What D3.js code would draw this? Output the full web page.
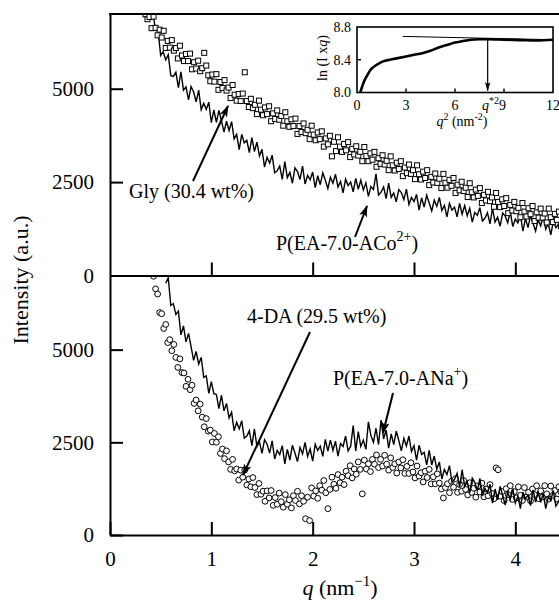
<!DOCTYPE html>
<html>
<head>
<meta charset="utf-8">
<script src="https://cdn.jsdelivr.net/npm/d3@7/dist/d3.min.js"></script>
<style>
  html, body { margin: 0; padding: 0; background: #fff; }
  svg, svg text { font-family: "Liberation Serif", "Times New Roman", Times, serif; }
</style>
</head>
<body>
<div id="chart"></div>
<script>
// ---- data ----
// upper panel: Gly (30.4 wt%) open squares, q = 0.35 + 0.02*i
const glyQStart = 0.35, glyQStep = 0.02;
const glyIntensity = [
  6990, 6860, 6920, 6620, 6930, 6630, 6430, 6580, 6370, 6550,
  6090, 6280, 6100, 6300, 6020, 6090, 5810, 6150, 5890, 5740,
  5930, 5740, 5940, 5520, 5710, 5540, 5750, 5470, 5550, 5960,
  5620, 5360, 5200, 5380, 5190, 5390, 4970, 5180, 5020, 5230,
  4950, 5030, 4750, 5100, 4840, 4680, 4860, 4670, 4870, 5440,
  4670, 4510, 4730, 4480, 4570, 4320, 4680, 4440, 4290, 4500,
  4320, 4530, 4130, 4340, 4190, 4420, 4170, 4270, 4010, 4370,
  4130, 3980, 4180, 4000, 4200, 3790, 4000, 3840, 4070, 3810,
  3900, 3650, 4010, 3770, 3620, 3830, 3650, 3860, 3450, 3670,
  3510, 3740, 3190, 3580, 3330, 3700, 3450, 3310, 3520, 3350,
  3570, 3170, 3390, 3240, 3460, 3210, 3310, 3060, 3440, 3200,
  3060, 3270, 3100, 3310, 2910, 3140, 2990, 3220, 2970, 3070,
  2820, 3190, 2950, 2810, 3020, 2850, 3060, 2660, 2890, 2740,
  2970, 2720, 2820, 2580, 2950, 2710, 2570, 2780, 2610, 2820,
  2420, 2640, 2490, 2730, 2480, 2590, 2340, 2720, 2480, 2350,
  2560, 2400, 2610, 2210, 2430, 2280, 2510, 2260, 2350, 2100,
  2470, 2230, 2090, 2300, 2130, 2340, 1940, 2160, 2010, 2240,
  1990, 2090, 1840, 2210, 1970, 1830, 2040, 1860, 2070, 1670,
  1890, 1740, 1970, 1720, 1810, 1560, 1940, 1710, 1580, 1800,
  1640, 1860, 1460, 1690, 1550, 1790, 1550, 1660, 1420, 1790,
  1560, 1430, 1650, 1490, 1710, 1320, 1550, 1400
];

// upper panel: P(EA-7.0-ACo2+) line, q = 0.425 + 0.025*i
const acoQStart = 0.425, acoQStep = 0.025;
const acoIntensity = [
  7000, 6560, 6550, 5890, 5990, 5770, 5910, 5350, 5330, 5440,
  5030, 5450, 4960, 5050, 4700, 5060, 4910, 4650, 4960, 4440,
  4610, 4450, 4640, 4090, 4430, 4100, 4420, 4140, 3840, 4130,
  3880, 4120, 3660, 3780, 3370, 3780, 3550, 3620, 3290, 3690,
  3320, 3570, 3200, 3380, 2900, 3160, 3010, 3220, 2750, 2800,
  2930, 2570, 3050, 2620, 2760, 2470, 2880, 2780, 2570, 2930,
  2450, 2680, 2560, 2770, 2350, 2670, 2430, 2750, 2550, 2330,
  2630, 2470, 2710, 2370, 2520, 2210, 2580, 2410, 2500, 2240,
  2600, 2310, 2550, 2290, 2480, 2120, 2380, 2300, 2720, 2150,
  2230, 2370, 2060, 2470, 2090, 2210, 1970, 2300, 2220, 2030,
  2310, 1900, 2090, 1980, 2170, 1750, 2080, 1830, 2150, 1940,
  1730, 2020, 1850, 2090, 1740, 1880, 1570, 1930, 1750, 1830,
  1570, 1930, 1640, 1870, 1600, 1800, 1430, 1690, 1610, 1820,
  1460, 1530, 1680, 1380, 1800, 1430, 1560, 1320, 1670, 1590,
  1410, 1710, 1310, 1510, 1410, 1610, 1190, 1530, 1280, 1600,
  1400, 1190, 1490, 1330, 1580, 1240, 1390, 1090, 1450, 1280,
  1370, 1110, 1470, 1180
];

// lower panel: 4-DA (29.5 wt%) open circles, q = 0.43 + 0.02*i
const daQStart = 0.43, daQStep = 0.02;
const daIntensity = [
  6980, 6640, 6500, 6000, 5970, 5570, 5680, 5190, 5270, 4970,
  5140, 4790, 4520, 4750, 4380, 4370, 4010, 4200, 3920, 4040,
  3550, 3640, 3350, 3530, 3180, 2920, 3140, 2800, 2830, 2510,
  2740, 2500, 2650, 2200, 2320, 2060, 2270, 1970, 1770, 2040,
  1730, 1780, 1480, 1750, 1560, 1750, 1350, 1510, 1300, 1550,
  1280, 1090, 1390, 1100, 1180, 910, 1190, 1000, 1200, 800,
  1010, 830, 1130, 900, 750, 1090, 830, 950, 730, 1060,
  930, 1180, 840, 1060, 910, 440, 1020, 390, 1270, 1050,
  1190, 990, 1330, 1210, 1470, 1140, 710, 1230, 1560, 1370,
  1260, 1630, 1410, 1560, 1360, 1720, 1600, 1870, 1540, 1780,
  1640, 1970, 1770, 1110, 2020, 1780, 1920, 1710, 2040, 1910,
  2160, 1820, 2040, 1860, 2150, 1910, 1750, 2080, 1820, 1920,
  1670, 1970, 1810, 2030, 1660, 1850, 1660, 1950, 1700, 1540,
  1860, 1590, 1680, 1430, 1720, 1550, 1770, 1380, 1570, 1380,
  1650, 1400, 1240, 1000, 1280, 1380, 1140, 1450, 1290, 1520,
  1150, 1360, 1180, 1470, 1230, 1080, 1410, 1150, 1260, 1020,
  1320, 1160, 1400, 1030, 1240, 1060, 1360, 1120, 980, 1810,
  1760, 1050, 1170, 930, 1250, 1090, 1330, 960, 1170, 1000,
  1300, 1070, 930, 1280, 1030, 1150, 920, 1240, 1090, 1330,
  980, 1190, 1030, 1330, 1110, 970, 1320, 1070, 1200, 970,
  1300, 1150, 1400, 1040
];

// lower panel: P(EA-7.0-ANa+) line, q = 0.55 + 0.025*i
const naQStart = 0.55, naQStep = 0.025;
const naIntensity = [
  6790, 6940, 6190, 6240, 5950, 6040, 5400, 5640, 5210, 5440,
  5080, 4710, 4950, 4610, 4790, 4250, 4290, 3820, 4140, 3810,
  3790, 3410, 3770, 3350, 3550, 3160, 3310, 2810, 3040, 2860,
  3080, 2610, 2670, 2810, 2410, 2860, 2390, 2510, 2200, 2570,
  2450, 2210, 2540, 2050, 2280, 2170, 2410, 1920, 2310, 2020,
  2420, 2210, 1980, 2360, 2190, 2500, 2120, 2320, 1990, 2450,
  2280, 2400, 2120, 2580, 2260, 2560, 2280, 2530, 2130, 2470,
  2390, 2670, 2270, 2390, 2950, 2270, 2790, 2390, 2560, 2310,
  3050, 2680, 2500, 2880, 2440, 3100, 2590, 2830, 2340, 2730,
  2440, 2800, 2550, 2270, 2610, 2400, 2670, 2250, 2410, 2020,
  2420, 2170, 2230, 1890, 2280, 1890, 2130, 1780, 1970, 1510,
  1770, 1630, 1870, 1420, 1500, 1660, 1290, 1760, 1310, 1440,
  1140, 1530, 1420, 1190, 1530, 1050, 1260, 1140, 1370, 860,
  1240, 950, 1310, 1070, 810, 1160, 960, 1250, 860, 1050,
  710, 1160, 970, 1080, 790, 1220, 890, 1180, 880, 1120,
  710, 1030, 940, 1200, 780, 890, 1080, 740, 1240
];

// inset: ln(I x q) vs q^2
const insetQ2 = [0.2, 0.4, 0.6, 0.8, 1.0, 1.3, 1.6, 2.0, 2.5, 3.0, 3.5, 4.0, 4.5, 5.0, 5.5, 6.0, 6.5, 7.0, 7.5, 8.0, 9.0, 10.0, 11.0, 12.0];
const insetLn = [8.0, 8.12, 8.2, 8.27, 8.31, 8.35, 8.38, 8.4, 8.42, 8.44, 8.46, 8.48, 8.51, 8.55, 8.58, 8.61, 8.63, 8.645, 8.65, 8.65, 8.645, 8.64, 8.635, 8.645];
const insetFitQ2 = [2.8, 12];
const insetFitLn = [8.685, 8.645];
const qStar2 = 8.0;

const yTicks = [0, 2500, 5000];
const xTicks = [0, 1, 2, 3, 4];
const insetXTicks = [0, 3, 6, 12];
const insetYTicks = [8.0, 8.4, 8.8];

const toPoints = (q0, dq, arr) => arr.map((v, i) => ({ q: q0 + i * dq, v }));
const glyData = toPoints(glyQStart, glyQStep, glyIntensity);
const acoData = toPoints(acoQStart, acoQStep, acoIntensity);
const daData = toPoints(daQStart, daQStep, daIntensity);
const naData = toPoints(naQStart, naQStep, naIntensity);

// ---- chart ----
const FONT = "'Liberation Serif', 'Times New Roman', Times, serif";
const W = 559, H = 600;
const x = d3.scaleLinear().domain([0, 4.5]).range([110, 566]);
const yTop = d3.scaleLinear().domain([0, 7000]).range([275.5, 14]);
const yBot = d3.scaleLinear().domain([0, 7000]).range([535, 275.5]);

const svg = d3.select("#chart").append("svg")
    .attr("width", W).attr("height", H)
    .attr("font-family", FONT);
const defs = svg.append("defs");
defs.append("clipPath").attr("id", "clipTop").append("rect")
    .attr("x", 110).attr("y", 14).attr("width", 456).attr("height", 261.5);
defs.append("clipPath").attr("id", "clipBot").append("rect")
    .attr("x", 110).attr("y", 275.5).attr("width", 456).attr("height", 259.5);
defs.append("marker").attr("id", "head")
    .attr("viewBox", "0 0 12 8").attr("refX", 11).attr("refY", 4)
    .attr("markerWidth", 12).attr("markerHeight", 8)
    .attr("markerUnits", "userSpaceOnUse").attr("orient", "auto")
  .append("path").attr("d", "M0,0 L12,4 L0,8 L3,4 Z").attr("fill", "#000");

// upper panel data
const gTop = svg.append("g").attr("clip-path", "url(#clipTop)");
gTop.append("path").datum(acoData)
    .attr("d", d3.line().x(d => x(d.q)).y(d => yTop(d.v)))
    .attr("fill", "none").attr("stroke", "#000").attr("stroke-width", 1.4);
gTop.selectAll("rect").data(glyData).join("rect")
    .attr("x", d => x(d.q) - 2.5).attr("y", d => yTop(d.v) - 2.5)
    .attr("width", 5).attr("height", 5)
    .attr("fill", "#fff").attr("stroke", "#000").attr("stroke-width", 1);

// lower panel data
const gBot = svg.append("g").attr("clip-path", "url(#clipBot)");
gBot.selectAll("circle").data(daData).join("circle")
    .attr("cx", d => x(d.q)).attr("cy", d => yBot(d.v)).attr("r", 2.9)
    .attr("fill", "#fff").attr("stroke", "#000").attr("stroke-width", 1);
gBot.append("path").datum(naData)
    .attr("d", d3.line().x(d => x(d.q)).y(d => yBot(d.v)))
    .attr("fill", "none").attr("stroke", "#000").attr("stroke-width", 1.4);

// axes
function styleAxis(g) {
  g.attr("font-family", FONT).attr("font-size", 21);
  g.selectAll("path, line").attr("stroke", "#000").attr("stroke-width", 2);
  g.selectAll("text").attr("fill", "#000");
}
const fmt = d3.format("d");
svg.append("g").attr("transform", "translate(110,0)")
    .call(d3.axisLeft(yTop).tickValues(yTicks).tickFormat(fmt).tickSizeInner(-13).tickSizeOuter(0).tickPadding(16))
    .call(styleAxis);
svg.append("g").attr("transform", "translate(110,0)")
    .call(d3.axisLeft(yBot).tickValues(yTicks).tickFormat(fmt).tickSizeInner(-13).tickSizeOuter(0).tickPadding(16))
    .call(styleAxis);
svg.append("g").attr("transform", "translate(0,275.5)")
    .call(d3.axisBottom(x).tickValues(xTicks.slice(1)).tickSizeInner(-13).tickSizeOuter(0).tickFormat(""))
    .call(styleAxis);
svg.append("g").attr("transform", "translate(0,535)")
    .call(d3.axisBottom(x).tickValues(xTicks).tickFormat(fmt).tickSizeInner(-13).tickSizeOuter(0).tickPadding(16))
    .call(styleAxis);
svg.append("line").attr("x1", 109).attr("x2", 566).attr("y1", 14).attr("y2", 14)
    .attr("stroke", "#000").attr("stroke-width", 2);
svg.append("line").attr("x1", 566).attr("x2", 566).attr("y1", 14).attr("y2", 535)
    .attr("stroke", "#000").attr("stroke-width", 2);

// axis titles
svg.append("text").attr("transform", "translate(28,280) rotate(-90)")
    .attr("text-anchor", "middle").attr("font-size", 22).text("Intensity (a.u.)");
const xt = svg.append("text").attr("x", 340).attr("y", 595)
    .attr("text-anchor", "middle").attr("font-size", 22);
xt.append("tspan").attr("font-style", "italic").text("q");
xt.append("tspan").text(" (nm");
xt.append("tspan").attr("dy", -9).attr("font-size", 15).text("\u22121");
xt.append("tspan").attr("dy", 9).text(")");

// annotations
function arrow(x1, y1, x2, y2) {
  svg.append("line").attr("x1", x1).attr("y1", y1).attr("x2", x2).attr("y2", y2)
      .attr("stroke", "#000").attr("stroke-width", 2).attr("marker-end", "url(#head)");
}
svg.append("text").attr("x", 129).attr("y", 198).attr("font-size", 20).text("Gly (30.4 wt%)");
arrow(193, 181, 228, 106);
const aco = svg.append("text").attr("x", 276).attr("y", 250).attr("font-size", 20);
aco.append("tspan").text("P(EA-7.0-ACo");
aco.append("tspan").attr("dy", -9).attr("font-size", 14).text("2+");
aco.append("tspan").attr("dy", 9).text(")");
arrow(355, 237, 367, 206);
svg.append("text").attr("x", 247).attr("y", 323).attr("font-size", 20).text("4-DA (29.5 wt%)");
arrow(310, 332, 243, 475);
const na = svg.append("text").attr("x", 333).attr("y", 385).attr("font-size", 20);
na.append("tspan").text("P(EA-7.0-ANa");
na.append("tspan").attr("dy", -9).attr("font-size", 14).text("+");
na.append("tspan").attr("dy", 9).text(")");
arrow(393, 393, 383, 433);

// ---- inset ----
const xi = d3.scaleLinear().domain([0, 12]).range([357, 553]);
const yi = d3.scaleLinear().domain([8.0, 8.8]).range([92.5, 27]);
const gi = svg.append("g");
gi.append("rect").attr("x", 357).attr("y", 27).attr("width", 196).attr("height", 65.5)
    .attr("fill", "#fff").attr("stroke", "#000").attr("stroke-width", 1.6);
gi.append("path").datum(insetQ2.map((q, i) => [q, insetLn[i]]))
    .attr("d", d3.line().curve(d3.curveMonotoneX).x(d => xi(d[0])).y(d => yi(d[1])))
    .attr("fill", "none").attr("stroke", "#000").attr("stroke-width", 2.6);
gi.append("line").attr("x1", xi(insetFitQ2[0])).attr("y1", yi(insetFitLn[0]))
    .attr("x2", xi(insetFitQ2[1])).attr("y2", yi(insetFitLn[1]))
    .attr("stroke", "#000").attr("stroke-width", 1);
defs.append("marker").attr("id", "headSmall")
    .attr("viewBox", "0 0 10 6").attr("refX", 9.5).attr("refY", 3)
    .attr("markerWidth", 9).attr("markerHeight", 6)
    .attr("markerUnits", "userSpaceOnUse").attr("orient", "auto")
  .append("path").attr("d", "M0,0 L10,3 L0,6 L2,3 Z").attr("fill", "#000");
gi.append("line").attr("x1", xi(qStar2)).attr("y1", yi(8.65))
    .attr("x2", xi(qStar2)).attr("y2", yi(8.02))
    .attr("stroke", "#000").attr("stroke-width", 1.2).attr("marker-end", "url(#headSmall)");
[3, 6, 9].forEach(t => {
  gi.append("line").attr("x1", xi(t)).attr("x2", xi(t)).attr("y1", 92.5).attr("y2", 88.5)
      .attr("stroke", "#000").attr("stroke-width", 1.4);
});
gi.append("line").attr("x1", 357).attr("x2", 361).attr("y1", yi(8.4)).attr("y2", yi(8.4))
    .attr("stroke", "#000").attr("stroke-width", 1.4);
gi.selectAll("text.xl").data(insetXTicks).join("text")
    .attr("x", d => xi(d)).attr("y", 110).attr("text-anchor", "middle")
    .attr("font-size", 14).text(d => d);
const q9 = gi.append("text").attr("x", 482).attr("y", 110).attr("font-size", 14);
q9.append("tspan").attr("font-style", "italic").text("q");
q9.append("tspan").attr("dy", -6).attr("font-size", 10).text("*2");
q9.append("tspan").attr("dy", 6).text("9");
gi.selectAll("text.yl").data(insetYTicks).join("text")
    .attr("x", 351).attr("y", d => yi(d)).attr("dy", "0.35em").attr("text-anchor", "end")
    .attr("font-size", 14).text(d => d.toFixed(1));
const ixt = gi.append("text").attr("x", 462).attr("y", 126).attr("text-anchor", "middle").attr("font-size", 14);
ixt.append("tspan").attr("font-style", "italic").text("q");
ixt.append("tspan").attr("dy", -6).attr("font-size", 10).text("2");
ixt.append("tspan").attr("dy", 6).text(" (nm");
ixt.append("tspan").attr("dy", -6).attr("font-size", 10).text("-2");
ixt.append("tspan").attr("dy", 6).text(")");
const iyt = gi.append("text").attr("transform", "translate(327,58) rotate(-90)")
    .attr("text-anchor", "middle").attr("font-size", 14);
iyt.append("tspan").text("ln (I x");
iyt.append("tspan").attr("font-style", "italic").text("q");
iyt.append("tspan").text(")");
</script>
</body>
</html>
